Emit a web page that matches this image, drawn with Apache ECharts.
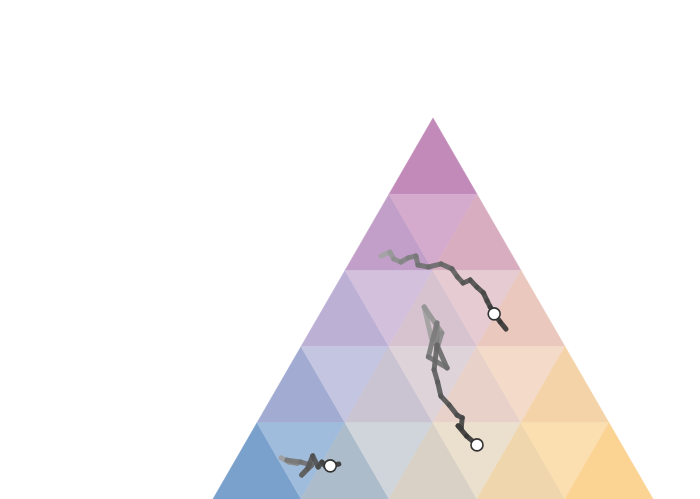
<!DOCTYPE html>
<html>
<head>
<meta charset="utf-8">
<script src="https://cdn.jsdelivr.net/npm/echarts@6/dist/echarts.min.js"></script>
<style>html,body{margin:0;padding:0;background:#fff;}#chart{width:700px;height:499px;}</style>
</head>
<body>
<div id="chart"></div>
<script>
// Ternary compositions (percent): [top share, right share]; left share = 100 - top - right
const trajectoryA = [[63.8,6.3],[64.8,7.8],[63.0,9.6],[62.2,11.6],[63.3,12.7],[63.8,14.2],[61.4,15.9],[60.9,18.5],[61.7,21.0],[60.4,24.1],[58.3,26.4],[56.7,28.5],[57.5,29.7],[55.6,32.2],[54.1,34.4],[52.0,36.3],[50.4,37.8],[48.6,39.6],[46.5,42.0],[44.6,44.3]];
const trajectoryB = [[41.7,28.9],[50.4,22.8],[43.6,30.2],[39.4,31.2],[46.2,27.8],[37.3,30.3],[34.4,36.0],[40.4,30.7],[33.9,33.3],[30.7,35.7],[27.0,38.3],[24.7,41.3],[22.0,44.5],[21.3,46.0],[18.6,47.1],[19.2,46.1],[16.5,49.4],[14.2,52.9]];
const trajectoryC = [[10.8,10.1],[9.7,12.4],[9.4,14.4],[10.2,11.7],[9.7,15.1],[8.9,18.0],[6.3,17.0],[8.1,17.5],[11.3,17.0],[8.4,19.7],[9.7,19.9],[8.4,21.5],[8.7,22.3],[9.2,24.0]];
// index of the highlighted (current) point in each trajectory
const currentIndex = [17, 17, 12];
const gridDivisions = 5;

// cell fill palette, row by row from the top, left to right (up, down, up, ...)
const cellPalette = [
  ['#c18ab9'],
  ['#c29fc8','#d4aacd','#d8adbf'],
  ['#bdb0d5','#d2c0dd','#d6c3cf','#e6cbd2','#eac8bd'],
  ['#a2abd1','#c3c5e1','#cac3d1','#dfd3da','#e8d1c8','#f4dac9','#f4d3a9'],
  ['#7aa0cc','#a0bcdc','#adbccb','#d0d5dc','#d9d1c5','#ebe0ce','#f0d6ad','#fcdfb0','#fbd393']
];

function toXY(p){ const a = p[0], c = p[1]; return [c + a/2, a]; }

// build triangular cells
const cells = [];
const step = 100 / gridDivisions;
for (let r = 0; r < gridDivisions; r++) {
  const yTop = 100 - step * r, yBot = 100 - step * (r + 1);
  const xTop0 = 50 - step/2 * r, xBot0 = 50 - step/2 * (r + 1);
  let n = 0;
  for (let k = 0; k <= r; k++) {
    cells.push({value:[xTop0 + step*k, yTop, xBot0 + step*k, yBot, xBot0 + step*(k+1), yBot], color: cellPalette[r][n++]});
    if (k < r) {
      cells.push({value:[xTop0 + step*k, yTop, xTop0 + step*(k+1), yTop, xTop0 + step*k + step/2, yBot], color: cellPalette[r][n++]});
    }
  }
}

function lerpGray(t){
  const s = Math.pow(t, 0.6);
  const v = Math.round(185 + (55 - 185) * s);
  return 'rgb(' + v + ',' + v + ',' + v + ')';
}

function trajSeries(traj){
  const pts = traj.map(toXY);
  return {
    type: 'custom',
    coordinateSystem: 'cartesian2d',
    data: pts,
    silent: true,
    z: 3,
    renderItem: function(params, api){
      const i = params.dataIndex;
      if (i === 0) return {type:'group', children:[]};
      const p0 = api.coord(pts[i-1]);
      const p1 = api.coord(pts[i]);
      return {
        type: 'line',
        shape: {x1:p0[0], y1:p0[1], x2:p1[0], y2:p1[1]},
        style: {stroke: lerpGray(i/(pts.length-1)), lineWidth: 5, lineCap:'round', lineJoin:'round', opacity: 0.92}
      };
    }
  };
}

const trajs = [trajectoryA, trajectoryB, trajectoryC];
const markers = trajs.map((t, i) => toXY(t[currentIndex[i]]));

const chart = echarts.init(document.getElementById('chart'), null, {renderer:'canvas'});
chart.setOption({
  animation: false,
  backgroundColor: '#ffffff',
  grid: {left: 213, right: 47, top: 118, bottom: 0},
  xAxis: {type:'value', min:0, max:100, show:false},
  yAxis: {type:'value', min:0, max:100, show:false},
  series: [
    {
      type: 'custom',
      coordinateSystem: 'cartesian2d',
      silent: true,
      z: 1,
      data: cells,
      renderItem: function(params, api){
        const c = cells[params.dataIndex];
        const v = c.value;
        const a = api.coord([v[0], v[1]]), b = api.coord([v[2], v[3]]), d = api.coord([v[4], v[5]]);
        return {type:'polygon', shape:{points:[a,b,d]}, style:{fill:c.color, stroke:c.color, lineWidth:0.6}};
      }
    },
    trajSeries(trajectoryA),
    trajSeries(trajectoryB),
    trajSeries(trajectoryC),
    {
      type: 'scatter',
      z: 5,
      silent: true,
      data: markers,
      symbol: 'circle',
      symbolSize: 12,
      itemStyle: {color:'#ffffff', borderColor:'#333333', borderWidth:1.6, opacity:1}
    }
  ]
});
</script>
</body>
</html>
